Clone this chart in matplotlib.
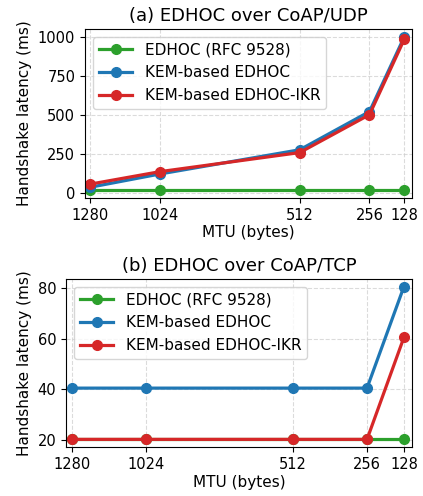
import matplotlib
matplotlib.use('Agg')
import matplotlib.pyplot as plt

mtu = [1280, 1024, 512, 256, 128]
labels = ['EDHOC (RFC 9528)', 'KEM-based EDHOC', 'KEM-based EDHOC-IKR']
colors = ['#2ca02c', '#1f77b4', '#d62728']

# (a) CoAP/UDP latency, ms
udp_edhoc = [20, 20, 20, 20, 20]
udp_kem = [40, 125, 280, 525, 1005]
udp_kem_ikr = [60, 140, 262, 505, 990]

# (b) CoAP/TCP latency, ms
tcp_edhoc = [20.3, 20.3, 20.3, 20.3, 20.3]
tcp_kem = [40.5, 40.5, 40.5, 40.5, 80.5]
tcp_kem_ikr = [20.3, 20.3, 20.3, 20.3, 60.5]

plt.rcParams['font.size'] = 11
plt.rcParams['xtick.labelsize'] = 10.5
plt.rcParams['ytick.labelsize'] = 10.5

fig = plt.figure(figsize=(4.23, 4.96), dpi=100)
W, H = 423, 496
ax1 = fig.add_axes([85 / W, 1 - 198 / H, (412 - 85) / W, (198 - 29) / H])
ax2 = fig.add_axes([66 / W, 1 - 447 / H, (412 - 66) / W, (447 - 279) / H])

panels = [
    (ax1, [udp_edhoc, udp_kem, udp_kem_ikr], '(a) EDHOC over CoAP/UDP'),
    (ax2, [tcp_edhoc, tcp_kem, tcp_kem_ikr], '(b) EDHOC over CoAP/TCP'),
]

for ax, series, title in panels:
    for vals, lab, c in zip(series, labels, colors):
        ax.plot(mtu, vals, '-o', color=c, label=lab, linewidth=2.3, markersize=7)
    ax.set_xlim(1300, 100)
    ax.set_xticks(mtu)
    ax.set_xticklabels([str(m) for m in mtu])
    ax.grid(True, linestyle='--', color='#cccccc', alpha=0.7, linewidth=0.8)
    ax.set_xlabel('MTU (bytes)', labelpad=2)
    ax.set_ylabel('Handshake latency (ms)')
    ax.set_title(title, fontsize=13)
    ax.legend(loc='upper left', handlelength=2.2)

ax1.set_yticks([0, 250, 500, 750, 1000])
ax2.set_yticks([20, 40, 60, 80])

fig.savefig('out.png', dpi=100)
